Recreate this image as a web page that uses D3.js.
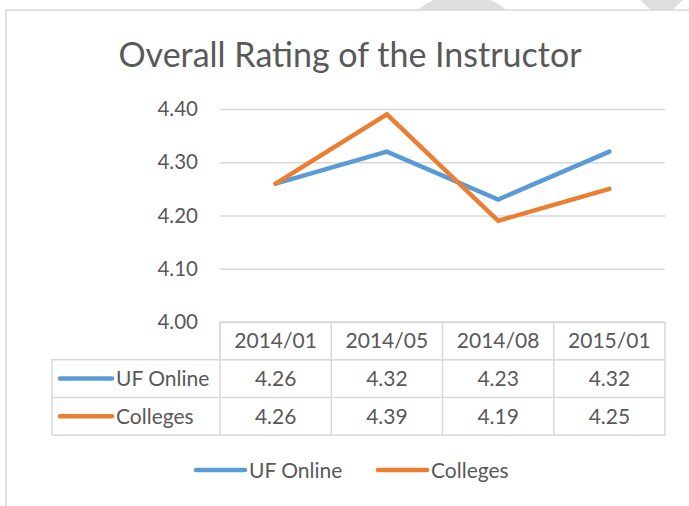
<!DOCTYPE html>
<meta charset="utf-8">
<script src="https://d3js.org/d3.v7.min.js"></script>
<style>
  body { margin: 0; background: #fff; }
  text { font-family: Lato, "Open Sans", sans-serif; fill: #595959; }
</style>
<div id="chart"></div>
<script>
// data
var categories = ["2014/01", "2014/05", "2014/08", "2015/01"];
var ufOnline = [4.26, 4.32, 4.23, 4.32];
var colleges = [4.26, 4.39, 4.19, 4.25];
var yTicks = [4.00, 4.10, 4.20, 4.30, 4.40];
var seriesNames = ["UF Online", "Colleges"];
var seriesColors = ["#5B9BD5", "#ED7D31"];

var W = 689, H = 506;
var fs = "21px";
var svg = d3.select("#chart").append("svg")
    .attr("width", W).attr("height", H);

// faint shapes peeking above the chart frame
svg.append("circle").attr("cx", 462).attr("cy", 64).attr("r", 70).attr("fill", "#dedede");
svg.append("path").attr("d", "M640,0 L683,0 L671,11 L652,11 Z").attr("fill", "#dedede");

// chart frame (bottom edge runs off the page)
svg.append("rect").attr("x", 6).attr("y", 10).attr("width", 700).attr("height", 520)
    .attr("fill", "#fff").attr("stroke", "#d9d9d9").attr("stroke-width", 1.5);

// title
svg.append("text")
    .attr("x", 350).attr("y", 67)
    .attr("text-anchor", "middle")
    .style("font-size", "34px")
    .text("Overall Rating of the Instructor");

var x = d3.scaleBand().domain(categories).range([220, 665]);
var y = d3.scaleLinear().domain([4.0, 4.4]).range([322, 109]);

// gridlines + y labels
svg.append("g")
    .attr("transform", "translate(220,0)")
    .call(d3.axisLeft(y).tickValues(yTicks).tickFormat(d3.format(".2f")).tickSize(-445).tickPadding(22))
    .call(function(g) {
        g.select(".domain").remove();
        g.selectAll("line").attr("stroke", "#d9d9d9").attr("stroke-width", 1.5);
        g.selectAll("text").style("font-size", "20.5px").attr("fill", "#595959")
            .style("font-family", "Lato, sans-serif");
    });

// lines
var series = [ufOnline, colleges];
var line = d3.line()
    .x(function(d, i) { return x(categories[i]) + x.bandwidth() / 2; })
    .y(function(d) { return y(d); });

svg.selectAll(".series")
    .data(series)
    .enter().append("path")
    .attr("class", "series")
    .attr("d", line)
    .attr("fill", "none")
    .attr("stroke", function(d, i) { return seriesColors[i]; })
    .attr("stroke-width", 4.5)
    .attr("stroke-linecap", "round")
    .attr("stroke-linejoin", "miter");

// data table
var tbl = svg.append("g");
var rowTop = 322, rowH = 37.7, labelLeft = 52;
var gridColor = "#d9d9d9";

// header row
tbl.append("rect").attr("x", 220).attr("y", rowTop).attr("width", 445).attr("height", rowH)
    .attr("fill", "none").attr("stroke", gridColor).attr("stroke-width", 1.5);
// body rows
tbl.append("rect").attr("x", labelLeft).attr("y", rowTop + rowH).attr("width", 665 - labelLeft).attr("height", rowH * 2)
    .attr("fill", "none").attr("stroke", gridColor).attr("stroke-width", 1.5);
tbl.append("line").attr("x1", labelLeft).attr("x2", 665)
    .attr("y1", rowTop + rowH * 2).attr("y2", rowTop + rowH * 2)
    .attr("stroke", gridColor).attr("stroke-width", 1.5);
// column separators
var cols = [220].concat(categories.slice(1).map(function(c) { return x(c); }));
tbl.selectAll(".colsep").data(cols).enter().append("line")
    .attr("x1", function(d) { return d; }).attr("x2", function(d) { return d; })
    .attr("y1", rowTop).attr("y2", rowTop + rowH * 3)
    .attr("stroke", gridColor).attr("stroke-width", 1.5);

// header labels
tbl.selectAll(".hdr").data(categories).enter().append("text")
    .attr("x", function(d) { return x(d) + x.bandwidth() / 2; })
    .attr("y", rowTop + rowH / 2 + 7.5)
    .attr("text-anchor", "middle")
    .style("font-size", fs)
    .text(function(d) { return d; });

// row labels with keys, and values
series.forEach(function(vals, si) {
    var cy = rowTop + rowH * (si + 1) + rowH / 2;
    tbl.append("line").attr("x1", 60).attr("x2", 112).attr("y1", cy).attr("y2", cy)
        .attr("stroke", seriesColors[si]).attr("stroke-width", 4.5).attr("stroke-linecap", "round");
    tbl.append("text").attr("x", 116).attr("y", cy + 7.5)
        .style("font-size", fs).text(seriesNames[si]);
    tbl.selectAll(".v" + si).data(vals).enter().append("text")
        .attr("x", function(d, i) { return x(categories[i]) + x.bandwidth() / 2; })
        .attr("y", cy + 7.5)
        .attr("text-anchor", "middle")
        .style("font-size", fs)
        .text(function(d) { return d3.format(".2f")(d); });
});

// legend
var legendX = [196, 378];
var legend = svg.selectAll(".legend").data(seriesNames).enter().append("g")
    .attr("class", "legend")
    .attr("transform", function(d, i) { return "translate(" + legendX[i] + ",470)"; });
legend.append("line").attr("x1", 0).attr("x2", 49).attr("y1", 0).attr("y2", 0)
    .attr("stroke", function(d, i) { return seriesColors[i]; })
    .attr("stroke-width", 4.5).attr("stroke-linecap", "round");
legend.append("text").attr("x", 53).attr("y", 7.5)
    .style("font-size", fs).text(function(d) { return d; });
</script>
